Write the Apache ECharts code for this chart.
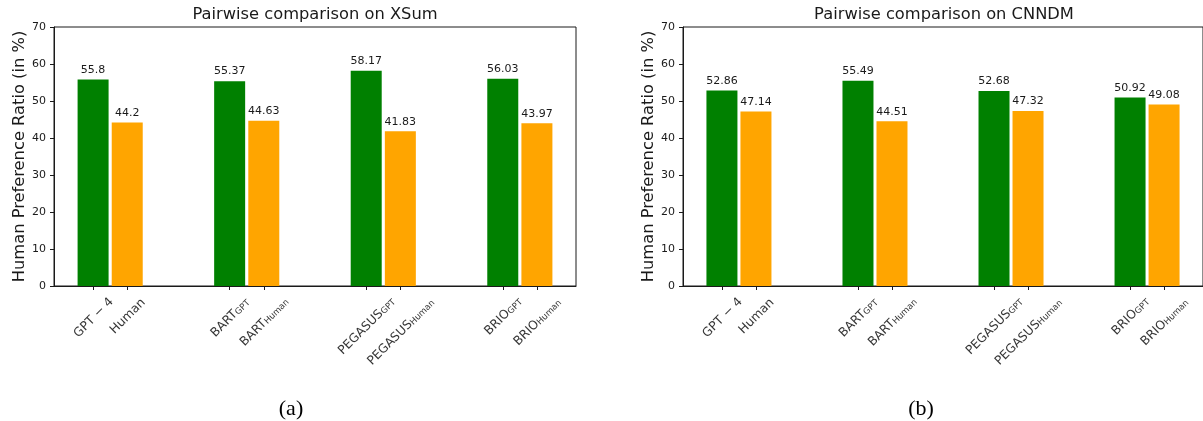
<!DOCTYPE html>
<html>
<head>
<meta charset="utf-8">
<script src="https://cdn.jsdelivr.net/npm/echarts@6/dist/echarts.min.js"></script>
<style>
  html, body { margin: 0; padding: 0; background: #fff; }
  #chart { width: 1203px; height: 421px; }
</style>
</head>
<body>
<div id="chart"></div>
<script>
// tick labels: [main text, subscript]
const gptLabels = [['GPT − 4', ''], ['BART', 'GPT'], ['PEGASUS', 'GPT'], ['BRIO', 'GPT']];
const humanLabels = [['Human', ''], ['BART', 'Human'], ['PEGASUS', 'Human'], ['BRIO', 'Human']];

// preference ratios (in %)
const xsumGpt = [55.8, 55.37, 58.17, 56.03];
const xsumHuman = [44.2, 44.63, 41.83, 43.97];
const cnndmGpt = [52.86, 55.49, 52.68, 50.92];
const cnndmHuman = [47.14, 44.51, 47.32, 49.08];

const panelTitles = ['Pairwise comparison on XSum', 'Pairwise comparison on CNNDM'];
const captions = ['(a)', '(b)'];
const yName = 'Human Preference Ratio (in %)';

const FONT = 'DejaVu Sans';
const GREEN = '#008000';
const ORANGE = '#ffa500';
const INK = '#1a1a1a';
const MAIN_SIZE = 12.3;
const SUB_SIZE = 8.6;
const LINE_H = 14;

// groups are 4 units apart, the two bars of a group 1 unit apart
const posGpt = i => 4 * i - 0.5;
const posHuman = i => 4 * i + 0.5;

const ctx = document.createElement('canvas').getContext('2d');
function textWidth(s, size) {
  ctx.font = size + 'px "' + FONT + '"';
  return ctx.measureText(s).width;
}

// rotated tick label, centred under its tick like matplotlib's ha='center'
function tickLabel(x, lab) {
  const L = textWidth(lab[0], MAIN_SIZE) + (lab[1] ? textWidth(lab[1], SUB_SIZE) : 0);
  const d = 8.5 + (L + LINE_H) * 0.354;
  const a = Math.round(d * 0.707);
  return {
    value: [x, 0],
    name: lab[1] ? '{m|' + lab[0] + '}{s|' + lab[1] + '}' : '{m|' + lab[0] + '}',
    label: { padding: [2 * a, 2 * a, 0, 0] }
  };
}

const grids = [], xAxes = [], yAxes = [], series = [], graphics = [];

function panel(idx, left, gpt, human) {
  grids.push({
    left: left, top: 27, width: 522, height: 259,
    show: true, borderColor: INK, borderWidth: 1
  });
  const ticks = [];
  gpt.forEach((v, i) => { ticks.push(posGpt(i), posHuman(i)); });
  xAxes.push({
    gridIndex: idx, type: 'value', min: -1.645, max: 13.645,
    splitLine: { show: false },
    axisLine: { show: true, onZero: false, lineStyle: { color: INK } },
    axisTick: { show: true, customValues: ticks, length: 4, lineStyle: { color: INK } },
    axisLabel: { show: false }
  });
  yAxes.push({
    gridIndex: idx, type: 'value', min: 0, max: 70, interval: 10,
    splitLine: { show: false },
    axisLine: { show: true, onZero: false, lineStyle: { color: INK } },
    axisTick: { show: true, length: 4, lineStyle: { color: INK } },
    axisLabel: { fontSize: 11, color: INK, fontFamily: FONT, margin: 8 },
    name: yName, nameLocation: 'middle', nameGap: 26,
    nameTextStyle: { fontSize: 16.3, color: INK, fontFamily: FONT }
  });
  const valueLabel = {
    show: true, position: 'top', distance: 4,
    fontSize: 11, color: INK, fontFamily: FONT,
    formatter: p => p.value[1]
  };
  series.push({
    type: 'bar', name: 'GPT', xAxisIndex: idx, yAxisIndex: idx,
    data: gpt.map((v, i) => [posGpt(i), v]),
    barWidth: 31, barGap: '-100%',
    itemStyle: { color: GREEN }, label: valueLabel, silent: true
  });
  series.push({
    type: 'bar', name: 'Human', xAxisIndex: idx, yAxisIndex: idx,
    data: human.map((v, i) => [posHuman(i), v]),
    barWidth: 31, barGap: '-100%',
    itemStyle: { color: ORANGE }, label: valueLabel, silent: true
  });
  const labels = [];
  gpt.forEach((v, i) => {
    labels.push(tickLabel(posGpt(i), gptLabels[i]));
    labels.push(tickLabel(posHuman(i), humanLabels[i]));
  });
  series.push({
    type: 'scatter', xAxisIndex: idx, yAxisIndex: idx,
    symbolSize: 1, itemStyle: { color: 'rgba(0,0,0,0)' },
    silent: true, clip: false, z: 5,
    label: {
      show: true, position: 'inside', rotate: 45,
      align: 'center', verticalAlign: 'middle',
      color: '#000', textBorderWidth: 0,
      formatter: p => p.name,
      rich: {
        m: { fontSize: MAIN_SIZE, lineHeight: LINE_H, verticalAlign: 'bottom', color: '#000', fontFamily: FONT, textBorderWidth: 0 },
        s: { fontSize: SUB_SIZE, lineHeight: 6, verticalAlign: 'bottom', color: '#000', fontFamily: FONT, textBorderWidth: 0 }
      }
    },
    data: labels
  });
  graphics.push({
    type: 'text', x: left + 261, y: 15,
    style: { text: panelTitles[idx], fontSize: 16.3, fontFamily: FONT, fill: INK, align: 'center', verticalAlign: 'middle' }
  });
}

panel(0, 54, xsumGpt, xsumHuman);
panel(1, 683, cnndmGpt, cnndmHuman);

graphics.push({
  type: 'text', x: 291, y: 409,
  style: { text: captions[0], fontSize: 22, fontFamily: 'Liberation Serif', fill: '#000', align: 'center', verticalAlign: 'middle' }
});
graphics.push({
  type: 'text', x: 921, y: 409,
  style: { text: captions[1], fontSize: 22, fontFamily: 'Liberation Serif', fill: '#000', align: 'center', verticalAlign: 'middle' }
});

const chart = echarts.init(document.getElementById('chart'));
chart.setOption({
  animation: false,
  textStyle: { fontFamily: FONT },
  grid: grids,
  xAxis: xAxes,
  yAxis: yAxes,
  series: series,
  graphic: graphics
});
</script>
</body>
</html>
